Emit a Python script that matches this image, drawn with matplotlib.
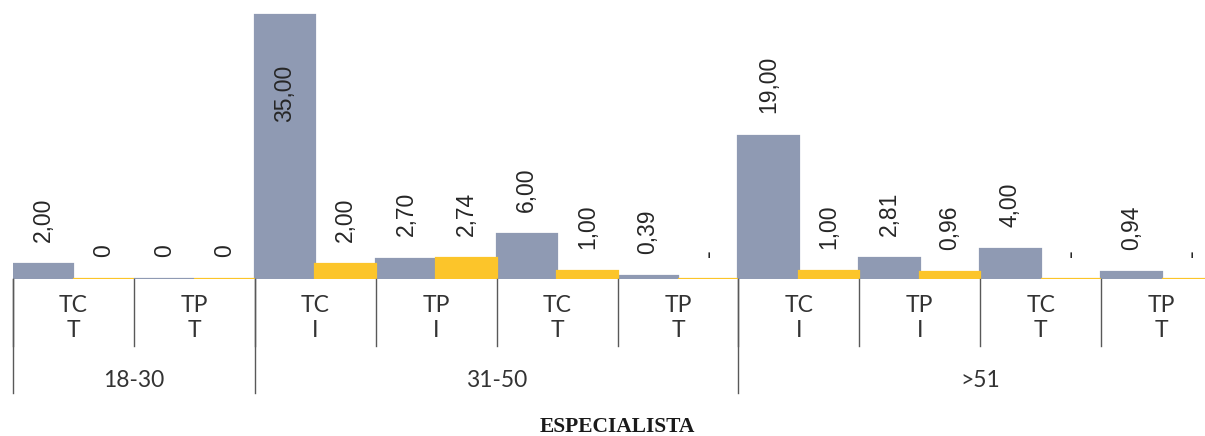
import numpy as np
import matplotlib
matplotlib.use('Agg')
import matplotlib.pyplot as plt
from matplotlib.transforms import blended_transform_factory

# data
ages = ['18-30', '31-50', '>51']
age_spans = [(0, 2), (2, 6), (6, 10)]  # group index ranges per age band
contract = ['TC', 'TP', 'TC', 'TP', 'TC', 'TP', 'TC', 'TP', 'TC', 'TP']
tenure = ['T', 'T', 'I', 'I', 'T', 'T', 'I', 'I', 'T', 'T']
serie_gris = [2.00, 0, 35.00, 2.70, 6.00, 0.39, 19.00, 2.81, 4.00, 0.94]
serie_amarilla = [0, 0, 2.00, 2.74, 1.00, None, 1.00, 0.96, None, None]

GRAY = '#8F9AB3'
YELLOW = '#FCC52A'
W, H = 1205, 436


def fmt(v):
    if v is None:
        return '-'
    if v == 0:
        return '0'
    return f'{v:.2f}'.replace('.', ',')


fig = plt.figure(figsize=(W / 100, H / 100), dpi=100)
# axes runs past the right edge, like the cropped original
ax = fig.add_axes([13 / W, 157 / H, 1209 / W, 279 / H])
x = np.arange(len(contract))
ymax = 279 / (264 / 35.0)

g = np.array(serie_gris, dtype=float)
a = np.array([0 if v is None else v for v in serie_amarilla], dtype=float)
ax.bar(x - 0.25, g, width=0.5, color=GRAY, edgecolor=GRAY, linewidth=1.6)
ax.bar(x + 0.25, a, width=0.5, color=YELLOW, edgecolor=YELLOW, linewidth=1.6)
ax.set_xlim(-0.5, len(x) - 0.5)
ax.set_ylim(0, ymax)
ax.axis('off')

lab_kw = dict(rotation=90, ha='center', fontsize=16.5,
              family='Liberation Sans', color='#262626',
              textcoords='offset points', annotation_clip=False)
for xs, vals in ((x - 0.25, serie_gris), (x + 0.25, serie_amarilla)):
    for xi, v in zip(xs, vals):
        h = 0 if v is None else v
        if h > 30:
            ax.annotate(fmt(v), (xi, h), xytext=(0, -36), va='top', **lab_kw)
        else:
            ax.annotate(fmt(v), (xi, h), xytext=(0, 16), va='bottom', **lab_kw)

# multi-level category axis
tr = blended_transform_factory(ax.transData, fig.transFigure)
fy = lambda px: (H - px) / H
line_kw = dict(color='#595959', lw=1, transform=tr, clip_on=False)
for b in range(len(x)):
    ax.plot([b - 0.5, b - 0.5], [fy(279), fy(346)], **line_kw)
for s, e in age_spans:
    ax.plot([s - 0.5, s - 0.5], [fy(279), fy(393)], **line_kw)

cat_kw = dict(transform=tr, ha='center', va='center', fontsize=16.5,
              family='Lato', color='#333333', clip_on=False)
for i in range(len(x)):
    ax.text(i, fy(305), contract[i], **cat_kw)
    ax.text(i, fy(330), tenure[i], **cat_kw)
for name, (s, e) in zip(ages, age_spans):
    ax.text((s + e - 1) / 2, fy(380), name, **cat_kw)

ax.text((len(x) - 1) / 2, fy(427), 'ESPECIALISTA', transform=tr, ha='center',
        va='center', fontsize=15.5, family='Liberation Serif',
        fontweight='bold', color='#1a1a1a')

fig.savefig('out.png', dpi=100, facecolor='white')
